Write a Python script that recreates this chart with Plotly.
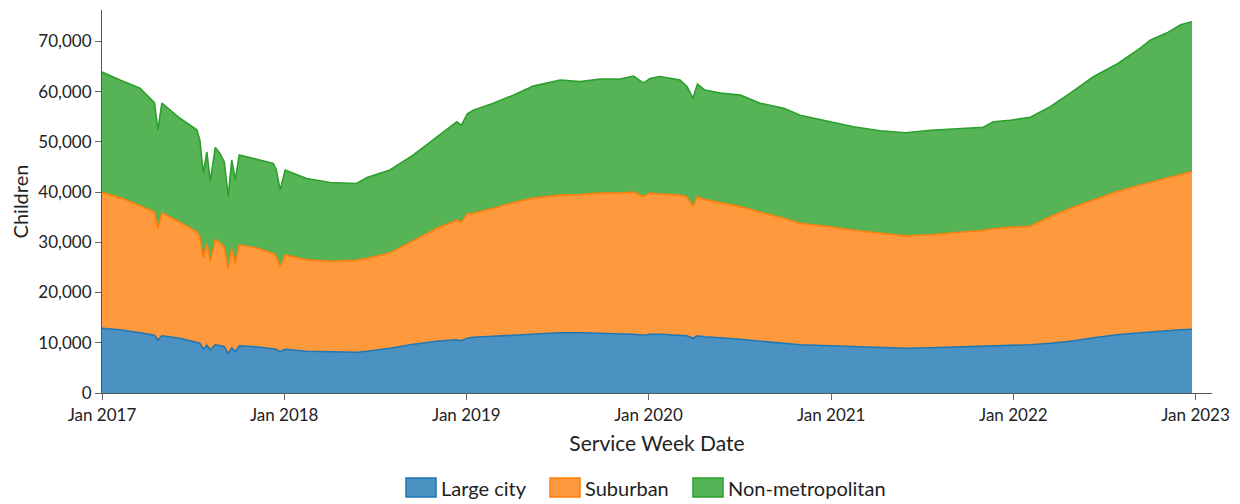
import plotly.graph_objects as go

# Service week dates
dates = [
    "2017-01-01", "2017-02-06", "2017-03-18", "2017-04-07", "2017-04-16", "2017-04-23",
    "2017-05-01", "2017-06-06", "2017-07-10", "2017-07-16", "2017-07-23", "2017-07-30",
    "2017-08-06", "2017-08-16", "2017-08-26", "2017-09-03", "2017-09-11", "2017-09-18",
    "2017-09-25", "2017-10-03", "2017-11-06", "2017-12-10", "2017-12-16", "2017-12-24",
    "2018-01-03", "2018-02-15", "2018-04-03", "2018-05-26", "2018-06-16", "2018-08-01",
    "2018-09-17", "2018-11-03", "2018-12-13", "2018-12-22", "2019-01-03", "2019-01-15",
    "2019-02-24", "2019-04-05", "2019-05-15", "2019-07-08", "2019-08-17", "2019-09-26",
    "2019-11-05", "2019-12-02", "2019-12-22", "2020-01-04", "2020-01-24", "2020-03-04",
    "2020-03-18", "2020-03-30", "2020-04-08", "2020-04-23", "2020-05-24", "2020-07-03",
    "2020-08-12", "2020-09-28", "2020-10-31", "2020-12-30", "2021-02-15", "2021-04-09",
    "2021-05-30", "2021-07-19", "2021-09-17", "2021-11-02", "2021-11-22", "2021-12-26",
    "2022-02-04", "2022-03-16", "2022-04-25", "2022-06-11", "2022-07-28", "2022-09-13",
    "2022-10-03", "2022-11-05", "2022-12-02", "2022-12-25",
]

large_city = [
    12900, 12600, 12000, 11700, 11500, 10550, 11400, 10900, 10100, 9900, 8700, 9500,
    8600, 9600, 9400, 9200, 7900, 9000, 8200, 9400, 9200, 8900, 8700, 8200,
    8700, 8300, 8200, 8100, 8300, 8900, 9700, 10300, 10600, 10400, 10900, 11100,
    11300, 11500, 11800, 12000, 12000, 11900, 11800, 11700, 11500, 11700, 11700, 11500,
    11400, 10900, 11400, 11200, 11000, 10700, 10300, 9900, 9600, 9400, 9200, 9000,
    8900, 9000, 9200, 9300, 9400, 9450, 9600, 9900, 10300, 11000, 11600, 12000,
    12200, 12400, 12600, 12700,
]

suburban = [
    27000, 26300, 25300, 24800, 24500, 22250, 24500, 23100, 22000, 21200, 18100, 20300,
    17500, 20900, 20500, 19800, 16700, 19800, 17600, 20100, 19700, 18900, 18500, 16900,
    18800, 18200, 18000, 18300, 18500, 19000, 20700, 22500, 23800, 23600, 24800, 24700,
    25500, 26400, 27000, 27400, 27500, 27900, 28000, 28300, 27600, 28100, 27900, 27900,
    27700, 26200, 27700, 27300, 26900, 26400, 25700, 24900, 24200, 23700, 23200, 22800,
    22400, 22500, 22800, 23100, 23300, 23550, 23600, 25200, 26500, 27400, 28500, 29400,
    29700, 30300, 30900, 31400,
]

non_metropolitan = [
    24000, 23400, 23400, 22200, 21800, 19600, 21800, 20700, 20300, 19300, 16900, 18200,
    16000, 18400, 17700, 17000, 14500, 17600, 16600, 17900, 17600, 17900, 17300, 15300,
    16900, 16200, 15700, 15300, 16100, 16500, 17000, 18200, 19600, 19300, 19900, 20500,
    20900, 21400, 22300, 22900, 22500, 22700, 22700, 23100, 22600, 22800, 23400, 22900,
    21900, 21600, 22400, 21800, 21800, 22200, 21700, 21900, 21500, 20900, 20600, 20400,
    20500, 20800, 20700, 20500, 21300, 21300, 21700, 21900, 22900, 24600, 25400, 27300,
    28400, 29000, 29800, 29800,
]

series_names = ["Large city", "Suburban", "Non-metropolitan"]
line_colors = ["#1f77b4", "#ff7f0e", "#2ca02c"]
fill_colors = ["#4b92c3", "#ff993e", "#56b356"]
year_ticks = ["2017-01-01", "2018-01-01", "2019-01-01", "2020-01-01",
              "2021-01-01", "2022-01-01", "2023-01-01"]
year_labels = ["Jan 2017", "Jan 2018", "Jan 2019", "Jan 2020",
               "Jan 2021", "Jan 2022", "Jan 2023"]

FONT = "Lato, 'Open Sans', sans-serif"

fig = go.Figure()
for name, vals, lc, fc in zip(series_names, [large_city, suburban, non_metropolitan],
                              line_colors, fill_colors):
    fig.add_trace(go.Scatter(
        x=dates, y=vals, name=name, mode="lines", stackgroup="one",
        line=dict(color=lc, width=1.6), fillcolor=fc, showlegend=False,
    ))

# page has an 8px body margin; figure is placed at (8, 8)
OFF = 8
W, H = 1240 - OFF, 504 - OFF
L, R, T, B = 102 - OFF, 1212 - OFF, 10 - OFF, 393 - OFF  # plot edges in figure px

def px_x(p):
    return (p - OFF - L) / (R - L)

def px_y(p):
    return (B - (p - OFF)) / (B - T)

legend_boxes = [406, 550, 693]
for name, lc, fc, bx in zip(series_names, line_colors, fill_colors, legend_boxes):
    fig.add_shape(type="rect", xref="paper", yref="paper",
                  x0=px_x(bx), x1=px_x(bx + 30), y0=px_y(497), y1=px_y(478),
                  fillcolor=fc, line=dict(color=lc, width=1.5))
    fig.add_annotation(xref="paper", yref="paper", x=px_x(bx + 33), y=px_y(487.5),
                       text=name, showarrow=False, xanchor="left", yanchor="middle",
                       font=dict(family=FONT, size=20, color="#222"))

fig.update_layout(
    width=W, height=H,
    margin=dict(l=L, r=W - R, t=T, b=H - B, pad=0),
    paper_bgcolor="white", plot_bgcolor="white",
    font=dict(family=FONT, color="#222"),
    showlegend=False,
)
fig.update_xaxes(
    range=["2017-01-01", "2023-02-03"],
    tickvals=year_ticks, ticktext=year_labels,
    ticks="outside", ticklen=6, tickcolor="#666",
    showline=True, linecolor="#555", linewidth=1.2,
    showgrid=False, zeroline=False,
    tickfont=dict(family=FONT, size=17, color="#222"),
    title=dict(text="Service Week Date", font=dict(family=FONT, size=21, color="#222"), standoff=12),
)
fig.update_yaxes(
    range=[0, 76250],
    tickvals=[0, 10000, 20000, 30000, 40000, 50000, 60000, 70000],
    tickformat=",d",
    ticks="outside", ticklen=6, tickcolor="#666",
    showline=True, linecolor="#555", linewidth=1.2,
    showgrid=False, zeroline=False,
    tickfont=dict(family=FONT, size=17, color="#222"),
    title=dict(text="Children", font=dict(family=FONT, size=20, color="#222"), standoff=8),
)

fig.write_html("out.html")
